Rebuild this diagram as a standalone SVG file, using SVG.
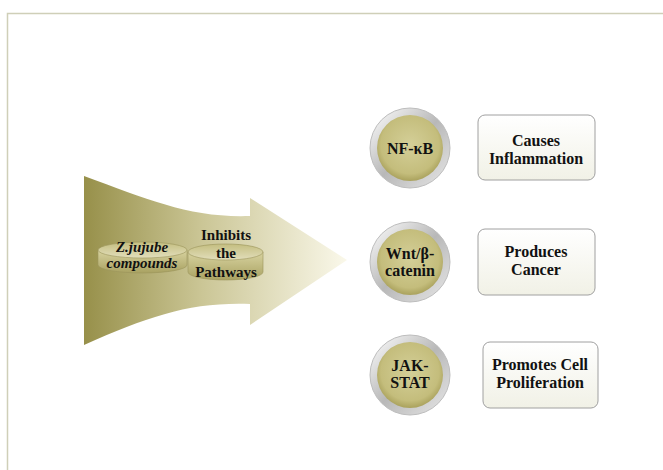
<svg xmlns="http://www.w3.org/2000/svg" width="663" height="470" viewBox="0 0 663 470">
<defs>
<linearGradient id="arrowG" x1="0" y1="0" x2="1" y2="0">
<stop offset="0" stop-color="#97904a"/>
<stop offset="0.45" stop-color="#cbc696"/>
<stop offset="1" stop-color="#faf8ea"/>
</linearGradient>
<linearGradient id="cylG" x1="0" y1="0" x2="0" y2="1">
<stop offset="0" stop-color="#d8d3a0"/>
<stop offset="1" stop-color="#a9a262"/>
</linearGradient>
<linearGradient id="cylTop" x1="0" y1="0" x2="0" y2="1">
<stop offset="0" stop-color="#c4be80"/>
<stop offset="1" stop-color="#e2debb"/>
</linearGradient>
<radialGradient id="discG" cx="0.5" cy="0.45" r="0.55">
<stop offset="0" stop-color="#d4cf98"/>
<stop offset="0.8" stop-color="#c4bd7c"/>
<stop offset="1" stop-color="#aaa25d"/>
</radialGradient>
<linearGradient id="ringG" x1="0" y1="0" x2="1" y2="1">
<stop offset="0" stop-color="#ffffff"/>
<stop offset="0.5" stop-color="#b8b8b8"/>
<stop offset="1" stop-color="#e8e8e8"/>
</linearGradient>
<linearGradient id="boxG" x1="0" y1="0" x2="0" y2="1">
<stop offset="0" stop-color="#ffffff"/>
<stop offset="1" stop-color="#f1f1e6"/>
</linearGradient>
</defs>
<style>
.t{font-family:"Liberation Serif","Times New Roman",serif;font-weight:bold;font-size:16px;fill:#111;text-anchor:middle}
.c{font-size:15px}
.ti{font-style:italic}
.box{fill:url(#boxG);stroke:#a0a0a0;stroke-width:1}
.ring{fill:url(#ringG);stroke:#bdbdbd;stroke-width:1}
.disc{fill:url(#discG)}
.cyl{fill:url(#cylG);stroke:#9a935a;stroke-width:0.6}
.cyltop{fill:url(#cylTop);stroke:#9a935a;stroke-width:0.6}
</style>
<rect width="663" height="470" fill="#ffffff"/>
<path d="M7.5 470 V13.5 H663" fill="none" stroke="#cfcfb8" stroke-width="1.5"/>

<g id="arrow">
<path d="M84 176 C150 200 190 218 250 216 L250 198 L347 260 L250 325 L250 304 C190 302 150 316 84 345 Z" fill="url(#arrowG)"/>
</g>

<g id="zjujube">
<path class="cyl" d="M98 250 V265 A44.5 8 0 0 0 187 265 V250 Z"/>
<ellipse class="cyltop" cx="142.5" cy="250" rx="44.5" ry="8"/>
<text class="t c ti" x="142" y="252">Z.jujube</text>
<text class="t c ti" x="142" y="268">compounds</text>
</g>

<g id="inhibits">
<path class="cyl" d="M188 252 V272 A37.5 8 0 0 0 263 272 V252 Z"/>
<ellipse class="cyltop" cx="225.5" cy="252" rx="37.5" ry="8"/>
<text class="t c" x="226" y="240">Inhibits</text>
<text class="t c" x="226" y="258">the</text>
<text class="t c" x="226" y="277">Pathways</text>
</g>

<g id="nfkb">
<circle class="ring" cx="410" cy="148" r="40"/>
<circle class="disc" cx="410" cy="148" r="33"/>
<text class="t" x="410" y="154">NF-κB</text>
</g>
<g id="wnt">
<circle class="ring" cx="410" cy="262" r="40"/>
<circle class="disc" cx="410" cy="262" r="33"/>
<text class="t" x="410" y="259">Wnt/β-</text>
<text class="t" x="410" y="276">catenin</text>
</g>
<g id="jak">
<circle class="ring" cx="410" cy="375" r="40"/>
<circle class="disc" cx="410" cy="375" r="33"/>
<text class="t" x="410" y="371">JAK-</text>
<text class="t" x="410" y="388">STAT</text>
</g>

<g id="inflammation">
<rect class="box" x="478" y="115" width="117" height="65" rx="7"/>
<text class="t" x="536" y="146">Causes</text>
<text class="t" x="536" y="164">Inflammation</text>
</g>
<g id="cancer">
<rect class="box" x="478" y="229" width="117" height="66" rx="7"/>
<text class="t" x="536" y="257">Produces</text>
<text class="t" x="536" y="275">Cancer</text>
</g>
<g id="proliferation">
<rect class="box" x="483" y="342" width="115" height="66" rx="7"/>
<text class="t" x="540" y="370">Promotes Cell</text>
<text class="t" x="540" y="388">Proliferation</text>
</g>
<g id="connectors"></g>
</svg>
